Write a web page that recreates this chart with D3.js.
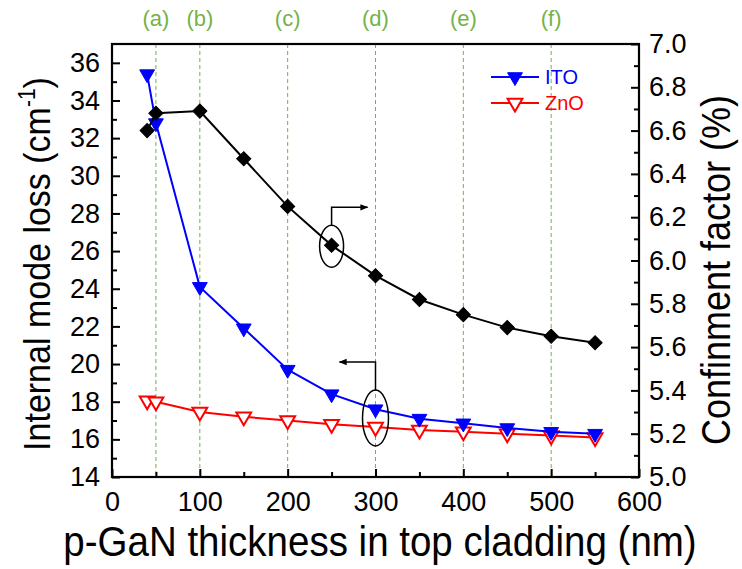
<!DOCTYPE html>
<html><head><meta charset="utf-8">
<script src="https://cdn.jsdelivr.net/npm/d3@7"></script>
<style>body{margin:0;background:#fff;} svg{display:block;}</style>
</head><body>
<script>
const thickness = [40, 50, 100, 150, 200, 250, 300, 350, 400, 450, 500, 550];
const itoLoss = [35.4, 32.8, 24.1, 21.9, 19.7, 18.4, 17.6, 17.1, 16.85, 16.6, 16.4, 16.3];
const znoLoss = [18.05, 18.0, 17.45, 17.2, 17.0, 16.8, 16.65, 16.5, 16.4, 16.3, 16.2, 16.1];
const confinement = [6.60, 6.68, 6.69, 6.47, 6.25, 6.07, 5.93, 5.82, 5.75, 5.69, 5.65, 5.62];
const refLines = [50, 100, 200, 300, 400, 500];
const refLabels = ["(a)", "(b)", "(c)", "(d)", "(e)", "(f)"];
const xTicks = [0, 100, 200, 300, 400, 500, 600];
const leftTicks = [14, 16, 18, 20, 22, 24, 26, 28, 30, 32, 34, 36];
const rightTicks = [5.0, 5.2, 5.4, 5.6, 5.8, 6.0, 6.2, 6.4, 6.6, 6.8, 7.0];

const W = 742, H = 569;
const m = {left: 112, right: 639, top: 44, bottom: 477};
const svg = d3.select("body").append("svg").attr("width", W).attr("height", H);
const font = "'Liberation Sans', Arial, sans-serif";

const x = d3.scaleLinear().domain([0, 600]).range([m.left, m.right]);
const yL = d3.scaleLinear().domain([14, 37]).range([m.bottom, m.top]);
const yR = d3.scaleLinear().domain([5.0, 7.0]).range([m.bottom, m.top]);

const green = "#74b24a";
// reference dashed lines
svg.selectAll(".ref").data(refLines).enter().append("line")
  .attr("x1", d => x(d)).attr("x2", d => x(d))
  .attr("y1", m.top).attr("y2", m.bottom)
  .attr("stroke", green).attr("stroke-width", 1).attr("stroke-dasharray", "4,3");
svg.selectAll(".reflab").data(refLines).enter().append("text")
  .attr("x", d => x(d)).attr("y", 26).attr("text-anchor", "middle")
  .attr("font-family", font).attr("font-size", 22).attr("fill", green)
  .text((d, i) => refLabels[i]);

// axes (inward ticks)
svg.append("g").attr("transform", `translate(0,${m.bottom})`)
  .call(d3.axisBottom(x).tickValues(xTicks).tickSize(-8).tickPadding(15).tickFormat(d3.format("d")));
svg.append("g").attr("transform", `translate(0,${m.bottom})`)
  .call(d3.axisBottom(x).tickValues(d3.range(50, 600, 100)).tickSize(-5).tickFormat(""));
svg.append("g").attr("transform", `translate(${m.left},0)`)
  .call(d3.axisLeft(yL).tickValues(leftTicks).tickSize(-8).tickPadding(12));
svg.append("g").attr("transform", `translate(${m.left},0)`)
  .call(d3.axisLeft(yL).tickValues(d3.range(15, 37, 2)).tickSize(-5).tickFormat(""));
svg.append("g").attr("transform", `translate(${m.right},0)`)
  .call(d3.axisRight(yR).tickValues(rightTicks).tickSize(-8).tickPadding(10).tickFormat(d3.format(".1f")));
svg.append("g").attr("transform", `translate(${m.right},0)`)
  .call(d3.axisRight(yR).tickValues(d3.range(5.1, 7.0, 0.2)).tickSize(-5).tickFormat(""));
svg.selectAll(".domain").remove();
svg.selectAll(".tick line").attr("stroke", "#000").attr("stroke-width", 2);
svg.selectAll(".tick text").attr("font-family", font).attr("font-size", 27).attr("fill", "#000");

// frame
svg.append("rect").attr("x", m.left).attr("y", m.top)
  .attr("width", m.right - m.left).attr("height", m.bottom - m.top)
  .attr("fill", "none").attr("stroke", "#000").attr("stroke-width", 2.2);

// series
const tri = d3.symbol().type(d3.symbolTriangle).size(95);
const dia = d3.symbol().type(d3.symbolSquare).size(100);
function series(vals, yS, color, filled, sym, rot) {
  const pts = thickness.map((t, i) => [x(t), yS(vals[i])]);
  svg.append("path").attr("d", d3.line()(pts)).attr("fill", "none")
    .attr("stroke", color).attr("stroke-width", 2);
  svg.selectAll(null).data(pts).enter().append("path")
    .attr("d", sym)
    .attr("transform", d => `translate(${d[0]},${d[1]}) rotate(${rot})`)
    .attr("fill", filled ? color : "#fff").attr("stroke", color).attr("stroke-width", filled ? 1 : 2);
}
series(znoLoss, yL, "#ff0000", false, tri, 180);
series(itoLoss, yL, "#0000ff", true, tri, 180);
series(confinement, yR, "#000000", true, dia, 45);

// annotations
svg.append("defs").append("marker").attr("id", "ah").attr("viewBox", "0 0 10 10")
  .attr("refX", 9).attr("refY", 5).attr("markerWidth", 9).attr("markerHeight", 8)
  .attr("markerUnits", "userSpaceOnUse").attr("orient", "auto")
  .append("path").attr("d", "M0,1 L10,5 L0,9 Z").attr("fill", "#000");
const e1x = x(250), e1y = yR(6.07);
svg.append("ellipse").attr("cx", e1x).attr("cy", e1y + 1).attr("rx", 12).attr("ry", 21)
  .attr("fill", "none").attr("stroke", "#000").attr("stroke-width", 1.5);
svg.append("path").attr("d", `M${e1x},${e1y - 20} V${e1y - 38} H${e1x + 36}`)
  .attr("fill", "none").attr("stroke", "#000").attr("stroke-width", 1.5).attr("marker-end", "url(#ah)");
const e2x = x(300), e2y = 418;
svg.append("ellipse").attr("cx", e2x).attr("cy", e2y).attr("rx", 13).attr("ry", 28)
  .attr("fill", "none").attr("stroke", "#000").attr("stroke-width", 1.5);
svg.append("path").attr("d", `M${e2x},${e2y - 28} V${e2y - 56} H${e2x - 36}`)
  .attr("fill", "none").attr("stroke", "#000").attr("stroke-width", 1.5).attr("marker-end", "url(#ah)");

// legend
const leg = [["ITO", "#0000ff", true], ["ZnO", "#ff0000", false]];
leg.forEach((l, i) => {
  const ly = 77 + i * 26;
  svg.append("line").attr("x1", 491).attr("x2", 539).attr("y1", ly).attr("y2", ly)
    .attr("stroke", l[1]).attr("stroke-width", 2);
  svg.append("path").attr("d", tri).attr("transform", `translate(515,${ly}) rotate(180)`)
    .attr("fill", l[2] ? l[1] : "#fff").attr("stroke", l[1]).attr("stroke-width", l[2] ? 1 : 2);
  svg.append("text").attr("x", 545).attr("y", ly + 7).attr("font-family", font)
    .attr("font-size", 20).attr("fill", l[1]).text(l[0]);
});

// axis titles
const lt = svg.append("text").attr("transform", `translate(50,264) rotate(-90) scale(1,1.1)`)
  .attr("text-anchor", "middle").attr("font-family", font).attr("font-size", 34).attr("fill", "#000");
lt.append("tspan").text("Internal mode loss (cm");
lt.append("tspan").attr("font-size", 21).attr("dy", -14).text("-1");
lt.append("tspan").attr("dy", 14).text(")");
svg.append("text").attr("transform", `translate(730,270) rotate(-90) scale(1,1.12)`)
  .attr("text-anchor", "middle").attr("font-family", font).attr("font-size", 36).attr("fill", "#000")
  .text("Confinment factor (%)");
svg.append("text").attr("transform", `translate(380,556) scale(1,1.1)`).attr("text-anchor", "middle")
  .attr("font-family", font).attr("font-size", 38.5).attr("fill", "#000")
  .text("p-GaN thickness in top cladding (nm)");
</script>
</body></html>
